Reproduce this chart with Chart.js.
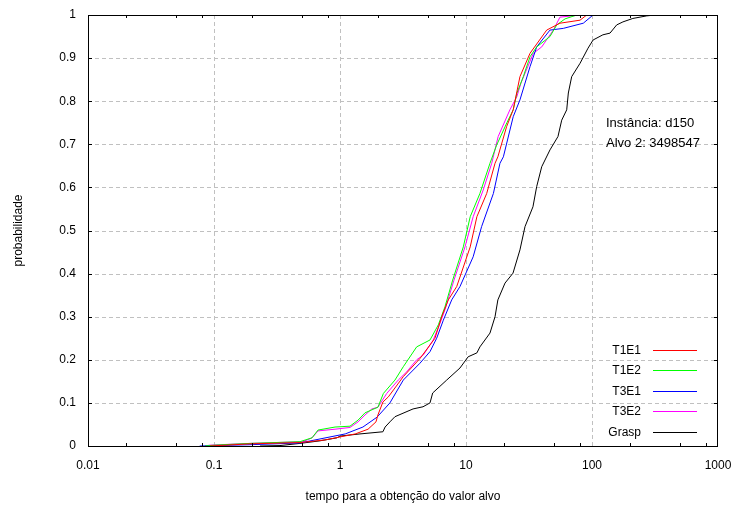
<!DOCTYPE html>
<html>
<head>
<meta charset="utf-8">
<script src="https://cdn.jsdelivr.net/npm/chart.js@4.4.0/dist/chart.umd.min.js"></script>
<style>
  html, body { margin: 0; padding: 0; background: #fff; }
  #wrap { width: 735px; height: 509px; }
</style>
</head>
<body>
<div id="wrap"><canvas id="c" width="735" height="509"></canvas></div>
<script>
// Time-to-target distributions (time in seconds, cumulative probability)
const seriesNames = ['T1E1', 'T1E2', 'T3E1', 'T3E2', 'Grasp'];

const t1e1Time = [0.093, 0.193, 0.481, 0.760, 1.0, 1.32, 1.67, 1.93, 2.00, 2.19, 2.42, 3.18, 4.31, 5.67, 6.42, 7.24, 8.44, 10.8, 12.2, 14.6, 17.0, 17.9, 21.0, 23.7, 26.8, 32.2, 43.7, 55.7, 80.4, 90.8];
const t1e1Prob = [0, 0.005, 0.008, 0.014, 0.021, 0.028, 0.039, 0.056, 0.072, 0.102, 0.114, 0.161, 0.203, 0.250, 0.300, 0.339, 0.370, 0.462, 0.532, 0.586, 0.656, 0.671, 0.741, 0.780, 0.857, 0.911, 0.965, 0.981, 0.988, 1.0];

const t1e2Time = [0.085, 0.102, 0.193, 0.481, 0.600, 0.669, 0.913, 1.20, 1.39, 1.58, 2.00, 2.21, 2.73, 3.18, 4.06, 5.18, 6.03, 6.81, 7.84, 9.52, 10.8, 12.9, 15.5, 17.5, 21.1, 23.7, 25.3, 28.5, 32.2, 36.4, 46.4, 52.5, 61.1, 75.6];
const t1e2Prob = [0, 0.002, 0.006, 0.010, 0.019, 0.037, 0.044, 0.046, 0.060, 0.077, 0.090, 0.122, 0.153, 0.184, 0.230, 0.246, 0.281, 0.323, 0.385, 0.462, 0.532, 0.586, 0.656, 0.698, 0.750, 0.780, 0.818, 0.857, 0.903, 0.926, 0.950, 0.977, 0.991, 1.0];

const t3e1Time = [0.077, 0.193, 0.481, 0.833, 1.10, 1.52, 1.97, 2.49, 3.18, 4.31, 5.18, 5.85, 6.61, 7.70, 8.96, 11.4, 13.3, 16.5, 18.6, 19.8, 23.7, 26.8, 32.2, 36.4, 46.4, 59.2, 85.3, 102];
const t3e1Prob = [0, 0.003, 0.007, 0.021, 0.028, 0.044, 0.067, 0.100, 0.153, 0.192, 0.219, 0.250, 0.292, 0.339, 0.370, 0.439, 0.509, 0.586, 0.656, 0.671, 0.764, 0.803, 0.880, 0.926, 0.965, 0.969, 0.981, 1.0];

const t3e2Time = [0.085, 0.093, 0.193, 0.508, 0.600, 0.669, 0.913, 1.20, 1.39, 1.58, 1.79, 2.00, 2.35, 2.90, 3.38, 4.06, 4.58, 5.50, 6.22, 6.81, 8.03, 9.82, 11.4, 13.7, 16.0, 18.0, 22.3, 25.3, 27.3, 34.2, 39.9, 49.3, 55.7, 80.4];
const t3e2Prob = [0, 0.002, 0.006, 0.010, 0.019, 0.035, 0.039, 0.043, 0.056, 0.072, 0.086, 0.090, 0.122, 0.153, 0.172, 0.200, 0.211, 0.246, 0.285, 0.316, 0.385, 0.462, 0.532, 0.594, 0.656, 0.718, 0.780, 0.810, 0.842, 0.911, 0.926, 0.965, 0.995, 1.0];

const graspTime = [0.232, 0.334, 0.481, 0.694, 0.947, 1.0, 1.44, 2.19, 2.28, 2.49, 2.73, 3.80, 4.56, 5.18, 5.44, 7.03, 8.96, 10.4, 12.2, 12.9, 15.5, 17.0, 17.9, 20.4, 23.6, 26.8, 29.4, 34.0, 36.4, 39.9, 46.4, 53.7, 57.5, 63.0, 64.9, 69.0, 80.4, 93.0, 102, 122, 139, 157, 176, 211, 272, 316];
const graspProb = [0, 0.001, 0.006, 0.012, 0.019, 0.023, 0.028, 0.033, 0.044, 0.056, 0.068, 0.086, 0.091, 0.100, 0.123, 0.153, 0.181, 0.207, 0.216, 0.230, 0.262, 0.300, 0.339, 0.378, 0.401, 0.455, 0.509, 0.555, 0.602, 0.648, 0.687, 0.718, 0.756, 0.780, 0.819, 0.857, 0.888, 0.923, 0.942, 0.954, 0.958, 0.977, 0.984, 0.992, 0.998, 1.0];

const xTickValues = [0.01, 0.1, 1, 10, 100, 1000];
const xMinorTicks = [0.02, 0.05, 0.08, 0.2, 0.5, 0.8, 2, 5, 8, 20, 50, 80, 200, 500, 800];
const annotationLines = ['Instância: d150', 'Alvo 2: 3498547'];

const seriesColors = ['#ff0000', '#00ff00', '#0000ff', '#ff00ff', '#000000'];
const seriesTimes = [t1e1Time, t1e2Time, t3e1Time, t3e2Time, graspTime];
const seriesProbs = [t1e1Prob, t1e2Prob, t3e1Prob, t3e2Prob, graspProb];

const FONT = '"Liberation Sans", Arial, sans-serif';
Chart.defaults.font.family = FONT;
Chart.defaults.font.size = 12;
Chart.defaults.color = '#000';

const datasets = seriesNames.map((name, i) => ({
  label: name,
  data: seriesTimes[i].map((t, k) => ({ x: t, y: seriesProbs[i][k] })),
  borderColor: seriesColors[i],
  backgroundColor: seriesColors[i],
  borderWidth: 1,
  pointRadius: 0,
  showLine: true,
  tension: 0
}));

// Dashed grid behind the curves
const dashedGrid = {
  id: 'dashedGrid',
  beforeDatasetsDraw(chart) {
    const { ctx, chartArea: a, scales: { x, y } } = chart;
    ctx.save();
    ctx.strokeStyle = '#c0c0c0';
    ctx.lineWidth = 1;
    ctx.setLineDash([4, 3]);
    ctx.beginPath();
    for (const t of x.ticks) {
      const px = Math.round(x.getPixelForValue(t.value)) + 0.5;
      if (px <= a.left + 1 || px >= a.right - 1) continue;
      ctx.moveTo(px, a.top); ctx.lineTo(px, a.bottom);
    }
    for (const t of y.ticks) {
      const py = Math.round(y.getPixelForValue(t.value)) + 0.5;
      if (py <= a.top + 1 || py >= a.bottom - 1) continue;
      ctx.moveTo(a.left, py); ctx.lineTo(a.right, py);
    }
    ctx.stroke();
    ctx.restore();
  }
};

// Frame, inward tick marks, legend and instance note
const decorations = {
  id: 'decorations',
  afterDraw(chart) {
    const { ctx, chartArea: a, scales: { x, y } } = chart;
    ctx.save();
    ctx.strokeStyle = '#000';
    ctx.lineWidth = 1;
    ctx.beginPath();
    for (const v of xMinorTicks) {
      const px = Math.round(x.getPixelForValue(v)) + 0.5;
      ctx.moveTo(px, a.bottom); ctx.lineTo(px, a.bottom - 3);
      ctx.moveTo(px, a.top); ctx.lineTo(px, a.top + 3);
    }
    for (const t of y.ticks) {
      const py = Math.round(y.getPixelForValue(t.value)) + 0.5;
      ctx.moveTo(a.left, py); ctx.lineTo(a.left + 4, py);
      ctx.moveTo(a.right, py); ctx.lineTo(a.right - 4, py);
    }
    ctx.stroke();
    ctx.strokeRect(Math.round(a.left) + 0.5, Math.round(a.top) + 0.5,
      Math.round(a.right - a.left) - 1, Math.round(a.bottom - a.top));

    // legend
    ctx.font = '12px ' + FONT;
    ctx.textBaseline = 'middle';
    chart.data.datasets.forEach((ds, i) => {
      const ry = Math.round(a.bottom - 96.5 + i * 20.5) + 0.5;
      ctx.fillStyle = '#000';
      ctx.textAlign = 'right';
      ctx.fillText(ds.label, a.right - 77, ry);
      ctx.strokeStyle = seriesColors[i];
      ctx.beginPath();
      ctx.moveTo(a.right - 65, ry);
      ctx.lineTo(a.right - 21, ry);
      ctx.stroke();
    });

    // instance note
    ctx.font = '13px ' + FONT;
    ctx.fillStyle = '#000';
    ctx.textAlign = 'left';
    annotationLines.forEach((s, i) => ctx.fillText(s, a.right - 112, a.top + 108 + i * 20));
    ctx.restore();
  }
};

new Chart(document.getElementById('c'), {
  type: 'scatter',
  data: { datasets },
  options: {
    responsive: false,
    animation: false,
    events: [],
    layout: { padding: { left: 0, top: 15, right: 17, bottom: 0 } },
    plugins: { legend: { display: false }, tooltip: { enabled: false } },
    scales: {
      x: {
        type: 'logarithmic',
        min: 0.01,
        max: 1000,
        afterBuildTicks: (s) => { s.ticks = xTickValues.map(v => ({ value: v })); },
        afterFit: (s) => { s.height = 63; s.paddingLeft = 0; s.paddingRight = 0; },
        ticks: {
          autoSkip: false,
          maxRotation: 0,
          padding: 12,
          color: '#000',
          font: { size: 12 },
          callback: (v) => String(v)
        },
        grid: { display: false, drawTicks: false },
        border: { display: false },
        title: {
          display: true,
          text: 'tempo para a obtenção do valor alvo',
          color: '#000',
          font: { size: 12 },
          padding: { top: 0, bottom: 5 }
        }
      },
      y: {
        min: 0,
        max: 1,
        afterFit: (s) => { s.width = 88; s.paddingTop = 0; s.paddingBottom = 0; },
        ticks: {
          stepSize: 0.1,
          padding: 12,
          color: '#000',
          font: { size: 12 },
          callback: (v) => String(Math.round(v * 10) / 10)
        },
        grid: { display: false, drawTicks: false },
        border: { display: false },
        title: {
          display: true,
          text: 'probabilidade',
          color: '#000',
          font: { size: 12 },
          padding: { top: 11, bottom: 0 }
        }
      }
    }
  },
  plugins: [dashedGrid, decorations]
});
</script>
</body>
</html>
